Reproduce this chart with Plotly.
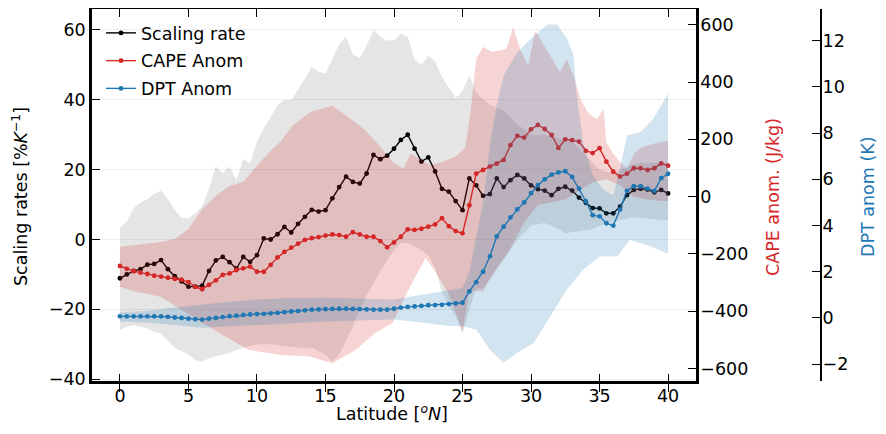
import plotly.graph_objects as go

# ---------------- data ----------------
lat = [i * 0.5 for i in range(81)]

scaling_rate = [-11.1, -10, -9, -8.5, -7.2, -7, -5.9, -8.5, -10.5, -12, -13.5, -13.5, -13.2, -9, -6, -5,
                -6.5, -8.3, -5, -6.4, -4.5, 0.3, 0, 1.5, 3.6, 2, 4.5, 6.5, 8.5, 8, 8.4, 11.8, 15, 18, 16.5,
                16, 18.9, 24.2, 23, 24, 26, 28.5, 30, 26, 22.3, 23.5, 19.5, 14.5, 13.7, 11, 8.4, 17.5, 15.5,
                12.5, 13, 17.5, 15, 17, 18.5, 17.5, 15.5, 14.4, 14, 12.7, 14.5, 15.1, 14, 12, 10.5, 9, 8.9,
                7.5, 7.5, 9.4, 12.7, 14.2, 14.5, 14.3, 13.5, 14.2, 13.2]

cape_anom = [-242, -252, -260, -265, -270, -276, -279, -283, -287, -290, -298, -315, -323, -308, -292, -273,
             -268, -256, -250, -244, -262, -262, -238, -212, -193, -178, -164, -151, -145, -141, -136, -132,
             -134, -140, -124, -132, -140, -140, -155, -177, -160, -140, -114, -116, -112, -105, -97, -75,
             -103, -120, -128, -30, 80, 93, 105, 115, 128, 180, 212, 206, 235, 250, 236, 215, 170, 200, 197,
             192, 160, 152, 169, 122, 87, 70, 80, 99, 99, 93, 99, 116, 108]

dpt_anom = [0.07, 0.07, 0.07, 0.07, 0.07, 0.07, 0.07, 0.05, 0.02, 0.0, -0.03, -0.05, -0.07, -0.03, 0.0, 0.04,
            0.08, 0.1, 0.13, 0.15, 0.17, 0.18, 0.2, 0.22, 0.25, 0.28, 0.3, 0.33, 0.36, 0.37, 0.38, 0.39, 0.4,
            0.4, 0.39, 0.38, 0.37, 0.36, 0.36, 0.36, 0.4, 0.45, 0.48, 0.5, 0.52, 0.55, 0.56, 0.57, 0.6, 0.63,
            0.66, 1.15, 1.55, 2.0, 2.67, 3.53, 3.95, 4.35, 4.7, 5.0, 5.4, 5.75, 6.0, 6.2, 6.3, 6.35, 6.1, 5.6,
            5.05, 4.45, 4.4, 4.1, 4.0, 4.69, 5.5, 5.7, 5.7, 5.6, 5.5, 6.05, 6.24]

# uncertainty bands (upper / lower bounds)
sr_upper_x = [i * 0.5 for i in range(53)] + [27, 28, 29, 30, 31, 32, 33, 34, 35, 36, 37, 38, 39, 40]
sr_upper = [3.5, 5, 9, 10.5, 11.5, 13, 14, 11.5, 8.5, 6.2, 6, 7.5, 9.5, 14.5, 21, 19, 21, 17, 23, 22, 28, 32,
            35, 38.5, 40, 40, 43, 46, 49.5, 48, 47.5, 51.7, 56, 58, 53, 52, 55.5, 60, 58, 57, 57, 59, 58, 51.7,
            50, 52.6, 51, 46.5, 43.5, 40.5, 42.5, 47, 42,
            38.5, 37, 33, 30, 30, 29, 28, 24, 20, 19, 21, 22, 22, 22]
sr_lower_x = [0, 0.5, 1, 1.5, 2, 2.5, 3, 3.5, 4, 4.5, 5, 5.5, 6, 6.5, 7, 7.5, 8, 9, 10, 11, 12, 13, 14, 15, 15.5,
              16, 16.5, 17, 17.5, 18, 18.5, 19, 19.5, 20, 20.5, 21, 21.5, 22, 22.5, 23, 23.5, 24, 24.5, 25,
              25.5, 26, 26.5, 27, 28, 29, 30, 31, 32, 32.5, 33.5, 34.5, 35.5, 36.5, 37.5, 38.5, 39.5, 40]
sr_lower = [-26, -25, -24.5, -25, -25.5, -26.5, -27, -29, -31, -32, -33, -34.5, -35, -34, -33.5, -33, -32.5,
            -31, -30, -30, -30.5, -31, -31, -33, -35, -33, -29, -25, -20, -16, -12.5, -9, -6, -3, -1, -1, -2,
            -3, -4.5, -8, -15, -19, -22, -27, -20, -14, -14, -11, -6, 0, 4, 4.7, 3, 1.8, 2.5, 3, 4.7, 5.5, 6.4,
            6, 5.6, 5.6]

cape_upper_x = [0, 1, 2, 3, 4, 5, 6, 7, 8, 9, 10, 11, 11.7, 12.6, 13.9, 15.5, 16.5, 17.8, 18.7, 19.9, 20.7,
                21.2, 21.5, 22.6, 23.5, 24.5, 25.2, 25.6, 26, 26.5, 27.2, 28.2, 28.7, 29.2, 29.8, 30.3, 30.8,
                31.4, 32.1, 32.6, 33.1, 33.6, 34.2, 34.8, 35.3, 35.5, 36, 36.5, 37, 37.5, 38, 39, 40]
cape_upper = [-175, -170, -165, -158, -148, -113, -43, 3, 38, 51, 108, 160, 191, 248, 295, 317, 283, 236, 191,
              121, 97, 150, 143, 110, 120, 140, 170, 300, 480, 522, 505, 515, 592, 515, 457, 579, 540, 492,
              435, 480, 422, 341, 290, 271, 306, 191, 150, 121, 97, 150, 170, 185, 195]
cape_lower_x = [0, 1, 2, 3, 4, 4.7, 6, 7.7, 9.4, 11.6, 13.8, 15.5, 17.2, 18.6, 19.9, 21, 22.3, 23, 24, 25,
                25.5, 26.5, 27.5, 28.5, 29.5, 30.5, 31.5, 32.5, 33.5, 34.5, 35.5, 36.5, 37.5, 38.5, 39.5, 40]
cape_lower = [-314, -330, -340, -350, -380, -401, -441, -488, -535, -552, -558, -581, -535, -477, -441, -330,
              -214, -260, -340, -470, -330, -330, -250, -180, -90, -30, -20, -10, 20, 50, 61, 40, 0, -10, -15,
              -15]

dpt_upper_x = [0, 2, 4, 6, 8, 10, 12, 15, 18, 20, 22, 24, 25, 25.5, 26, 26.5, 27, 27.5, 28, 29, 30.2, 31.2,
               31.9, 32.6, 33.1, 33.3, 33.8, 34.5, 35.2, 36, 36.5, 37, 38, 38.9, 40]
dpt_upper = [0.25, 0.3, 0.45, 0.58, 0.7, 0.8, 0.85, 0.88, 0.82, 0.8, 1.0, 1.2, 1.3, 2, 3.5, 5, 7.5, 9.2, 10.5,
             11.5, 12.2, 12.7, 12.7, 12.1, 11.4, 9.8, 7.6, 6.2, 5.6, 5.3, 6.5, 7.9, 8.05, 8.6, 9.7]
dpt_lower_x = [0, 2, 4, 6, 8, 10, 12, 15, 18, 20, 22, 24, 25, 26, 27, 28, 29, 30.2, 31.4, 32.6, 33.8, 35, 36.3,
               37.2, 38.7, 39.9, 40]
dpt_lower = [-0.15, -0.2, -0.3, -0.42, -0.35, -0.3, -0.25, -0.15, -0.1, -0.07, -0.2, -0.35, -0.35, -0.5, -1.37,
             -1.94, -1.5, -1.08, 0.07, 1.22, 2.09, 2.66, 2.66, 3.39, 3.1, 2.8, 2.8]

x_ticks = [0, 5, 10, 15, 20, 25, 30, 35, 40]

# ---------------- styling ----------------
FONT = "DejaVu Sans"
BLACK = "#000000"
RED = "#d62728"
BLUE = "#1f77b4"
OFF = 8                      # default page margin around the plot div
W, H = 886 - 2 * OFF, 434 - 2 * OFF


def px(x):                   # page x -> figure x
    return x - OFF


def py(y):                   # page y -> figure y
    return y - OFF


L, R, T, B = px(92), px(696), py(9), py(381.3)


def band(xu, yu, xl, yl, color, yaxis):
    return go.Scatter(x=list(xu) + list(xl)[::-1], y=list(yu) + list(yl)[::-1], fill="toself",
                      fillcolor=color, line=dict(width=0), mode="lines", hoverinfo="skip",
                      showlegend=False, yaxis=yaxis)


fig = go.Figure()
fig.add_trace(band(sr_upper_x, sr_upper, sr_lower_x, sr_lower, "rgba(0,0,0,0.1)", "y"))
fig.add_trace(go.Scatter(x=lat, y=scaling_rate, mode="lines+markers", name="Scaling rate",
                         line=dict(color=BLACK, width=1.4), marker=dict(size=4.8, color=BLACK),
                         legendgroup="a", yaxis="y"))
fig.add_trace(band(cape_upper_x, cape_upper, cape_lower_x, cape_lower, "rgba(214,39,40,0.2)", "y2"))
fig.add_trace(go.Scatter(x=lat, y=cape_anom, mode="lines+markers", name="CAPE Anom",
                         line=dict(color=RED, width=1.4), marker=dict(size=4.8, color=RED),
                         legendgroup="b", yaxis="y2"))
fig.add_trace(band(dpt_upper_x, dpt_upper, dpt_lower_x, dpt_lower, "rgba(31,119,180,0.2)", "y3"))
fig.add_trace(go.Scatter(x=lat, y=dpt_anom, mode="lines+markers", name="DPT Anom",
                         line=dict(color=BLUE, width=1.4), marker=dict(size=4.8, color=BLUE),
                         legendgroup="c", yaxis="y3"))

xd = [L / W, R / W]
yd = [(H - B) / H, (H - T) / H]
FS = 17.5
tickfont = dict(family=FONT, size=FS, color="#000")
common = dict(ticks="inside", ticklen=8, tickwidth=1.2, tickcolor="#000", showline=True, linecolor="#000",
              zeroline=False, tickfont=tickfont, automargin=False)

fig.update_layout(
    width=W, height=H, margin=dict(l=0, r=0, t=0, b=0, pad=0, autoexpand=False),
    paper_bgcolor="white", plot_bgcolor="white",
    font=dict(family=FONT, size=FS, color="#000"),
    xaxis=dict(domain=xd, range=[-2.04, 42.04], tickvals=x_ticks, linewidth=2.5, mirror="allticks",
               showgrid=False, ticklabelstandoff=-3, **common),
    yaxis=dict(domain=yd, range=[-40.6, 66], tickvals=[-40, -20, 0, 20, 40, 60], linewidth=2.5,
               showgrid=True, gridcolor="#efefef", gridwidth=1, ticklabelstandoff=0, **common),
    yaxis2=dict(overlaying="y", side="right", anchor="x", range=[-644.3, 654.7],
                tickvals=[-600, -400, -200, 0, 200, 400, 600], linewidth=2.5, showgrid=False,
                ticklabelstandoff=-2, **common),
    yaxis3=dict(overlaying="y", side="right", anchor="free", position=px(821) / W, range=[-2.74, 13.37],
                tickvals=[-2, 0, 2, 4, 6, 8, 10, 12], linewidth=2, showgrid=False, ticklabelstandoff=-3,
                **common),
    legend=dict(x=px(101) / W, y=(H - py(15)) / H, xanchor="left", yanchor="top",
                bgcolor="rgba(0,0,0,0)", font=dict(family=FONT, size=FS, color="#000"),
                tracegroupgap=2, itemwidth=30),
    showlegend=True,
    annotations=[
        dict(text="Scaling rates [%<i>K</i><sup>−1</sup>]", x=px(20) / W, y=(H - py(197)) / H,
             xref="paper", yref="paper", xanchor="center", yanchor="middle", showarrow=False,
             textangle=-90, font=dict(family=FONT, size=FS, color="#000")),
        dict(text="Latitude [<sup><i>o</i></sup><i>N</i>]", x=px(392) / W, y=(H - py(413)) / H,
             xref="paper", yref="paper", xanchor="center", yanchor="middle", showarrow=False,
             font=dict(family=FONT, size=FS, color="#000")),
        dict(text="CAPE anom. (J/kg)", x=px(773) / W, y=(H - py(197)) / H, xref="paper", yref="paper",
             xanchor="center", yanchor="middle", showarrow=False, textangle=-90,
             font=dict(family=FONT, size=FS, color=RED)),
        dict(text="DPT anom (K)", x=px(868) / W, y=(H - py(197)) / H, xref="paper", yref="paper",
             xanchor="center", yanchor="middle", showarrow=False, textangle=-90,
             font=dict(family=FONT, size=FS, color=BLUE)),
    ],
)

fig.write_html("out.html")
